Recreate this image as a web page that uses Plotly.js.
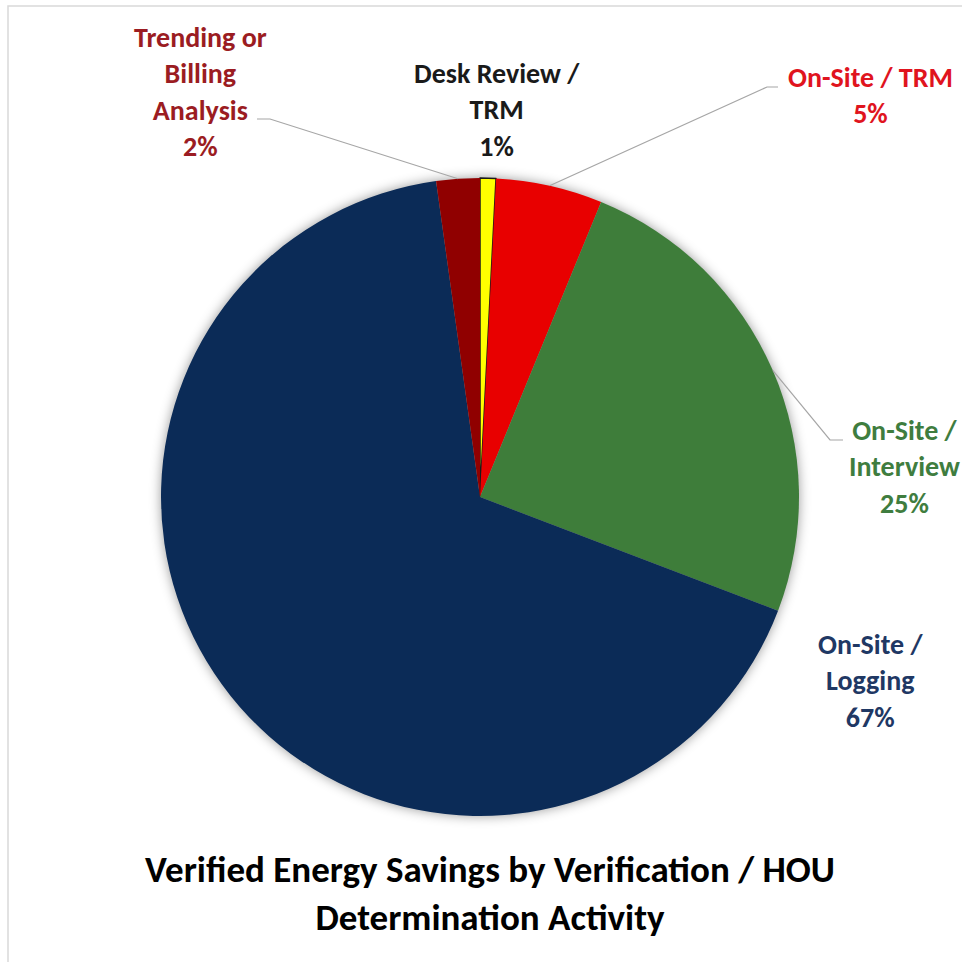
<!DOCTYPE html>
<html>
<head>
<meta charset="utf-8">
<script src="https://cdn.plot.ly/plotly-3.0.1.min.js"></script>
<style>
  html, body { margin: 0; padding: 0; background: #fff; }
  #chart { width: 962px; height: 962px; }
  .pielayer .trace { filter: drop-shadow(0px 0px 6px rgba(0,0,0,0.4)); }
</style>
</head>
<body>
<div id="chart"></div>
<script>
// ---- data ----
const categories = ["Desk Review / TRM", "On-Site / TRM", "On-Site / Interview", "On-Site / Logging", "Trending or Billing Analysis"];
const labelLines = ["Desk Review /<br>TRM", "On-Site / TRM", "On-Site /<br>Interview", "On-Site /<br>Logging", "Trending or<br>Billing<br>Analysis"];
const values = [0.8, 5.4, 24.6, 67.0, 2.2];
const sliceColors = ["#FFFF00", "#E80000", "#3E7D3A", "#0B2B57", "#900000"];
const labelColors = ["#1A1A1A", "#E0141E", "#3F7D3F", "#1F3864", "#9B1C22"];
const titleText = "Verified Energy Savings by Verification / HOU<br>Determination Activity";

// ---- layout helpers (pixels -> paper) ----
const W = 962, H = 962;
const px = x => x / W;
const py = y => 1 - y / H;

// pie geometry
const pieCX = 480, pieCY = 497, pieR = 319;

// label placement (pixel centres) and leader elbows (null = no leader)
const labelPos = [
  {x: 497, y: 110, leader: null},
  {x: 870, y: 95,  leader: [[767, 87], [778, 87]]},
  {x: 904, y: 467, leader: [[830, 440], [843, 440]]},
  {x: 870, y: 681, leader: null},
  {x: 200, y: 92,  leader: [[270, 119], [257, 119]]}
];

const total = values.reduce((a, b) => a + b, 0);
const font = "Calibri, Carlito, Lato, 'Open Sans', sans-serif";

const annotations = [];
const shapes = [];
let cum = 0;
values.forEach((v, i) => {
  const mid = (cum + v / 2) / total;   // fraction, clockwise from 12 o'clock
  cum += v;
  const ang = mid * 2 * Math.PI;
  const ex = pieCX + pieR * Math.sin(ang);
  const ey = pieCY - pieR * Math.cos(ang);
  const pct = Math.round(v / total * 100) + "%";
  const lp = labelPos[i];
  annotations.push({
    xref: "paper", yref: "paper",
    x: px(lp.x), y: py(lp.y),
    xanchor: "center", yanchor: "middle",
    text: "<b>" + labelLines[i] + "<br>" + pct + "</b>",
    showarrow: false,
    align: "center",
    font: {family: font, size: 28, color: labelColors[i]}
  });
  if (lp.leader) {
    const pts = [[ex, ey]].concat(lp.leader);
    const path = pts.map((p, k) => (k ? "L" : "M") + px(p[0]) + "," + py(p[1])).join(" ");
    shapes.push({
      type: "path", xref: "paper", yref: "paper", path: path,
      line: {color: "#A6A6A6", width: 1.2}
    });
  }
});

// chart-area border (light gray, cut at right/bottom like the reference)
shapes.push({
  type: "path", xref: "paper", yref: "paper",
  path: "M" + px(8) + "," + py(980) + " L" + px(8) + "," + py(6) + " L" + px(980) + "," + py(6),
  line: {color: "#D9D9D9", width: 1.5}
});

const trace = {
  type: "pie",
  labels: categories,
  values: values,
  sort: false,
  direction: "clockwise",
  rotation: 0,
  textinfo: "none",
  hoverinfo: "label+percent",
  showlegend: false,
  marker: {
    colors: sliceColors,
    line: {color: ["#1A1A1A", "#E80000", "#3E7D3A", "#0B2B57", "#900000"], width: [1.5, 0, 0, 0, 0]}
  },
  domain: {
    x: [px(pieCX - pieR), px(pieCX + pieR)],
    y: [py(pieCY + pieR), py(pieCY - pieR)]
  }
};

const layout = {
  width: W, height: H,
  margin: {l: 0, r: 0, t: 0, b: 0},
  paper_bgcolor: "#FFFFFF",
  plot_bgcolor: "#FFFFFF",
  showlegend: false,
  title: {
    text: "<b>" + titleText + "</b>",
    x: px(490), xanchor: "center",
    y: py(882), yanchor: "middle",
    yref: "container",
    font: {family: font, size: 37, color: "#000000"}
  },
  annotations: annotations,
  shapes: shapes
};

Plotly.newPlot("chart", [trace], layout, {displayModeBar: false, staticPlot: true});
</script>
</body>
</html>
